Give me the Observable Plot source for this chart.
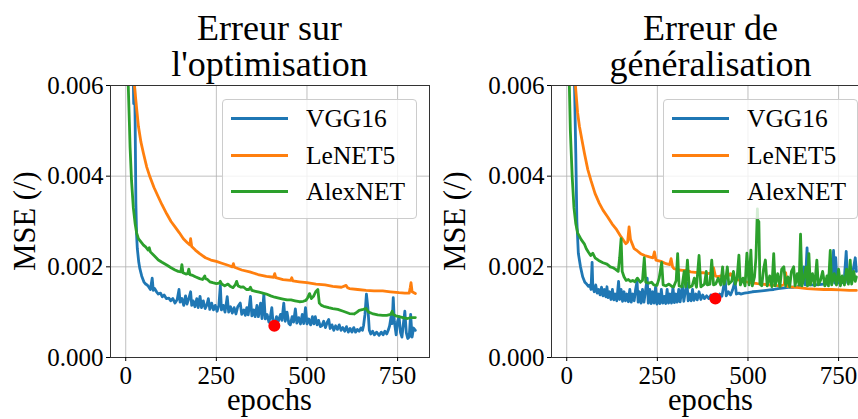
<!DOCTYPE html>
<html>
<head>
<meta charset="utf-8">
<script src="https://cdn.jsdelivr.net/npm/d3@7"></script>
<script src="https://cdn.jsdelivr.net/npm/@observablehq/plot@0.6"></script>
<style>
  html, body { margin: 0; padding: 0; background: white; overflow: hidden; }
  #root { position: relative; width: 858px; height: 419px; overflow: hidden; background: white;
          font-family: "Liberation Serif", "Times New Roman", serif; color: black; }
  #root svg, #root svg text { font-family: "Liberation Serif", "Times New Roman", serif !important; }
  #root svg { font-size: 25px !important; background: transparent !important; overflow: visible !important; max-width: none !important; }
  .abs { position: absolute; }
  .title { font-size: 36px; line-height: 36px; text-align: center; white-space: nowrap; }
  .xlabel { font-size: 30.6px; line-height: 31px; white-space: nowrap; transform: translateX(-50%); }
  .ylabel { font-size: 30.6px; line-height: 31px; white-space: nowrap; transform: translate(-50%, -50%) rotate(-90deg); }
  .legend { box-sizing: border-box; border: 1px solid #cccccc; border-radius: 4px; background: rgba(255,255,255,0.8); }
  .legend .sw { position: absolute; height: 3px; width: 57px; }
  .legend .lb { position: absolute; font-size: 25.5px; line-height: 25.5px; white-space: nowrap; }
</style>
</head>
<body>
<div id="root"></div>
<script>
// ---- Data (MSE values in units of 1e-3) ----
const epochTicks = [0, 250, 500, 750];
const mseTicks = [0, 0.002, 0.004, 0.006];
const seriesNames = ["VGG16", "LeNET5", "AlexNET"];
const seriesColors = ["#1f77b4", "#ff7f0e", "#2ca02c"];
const panelTitles = [["Erreur sur", "l'optimisation"], ["Erreur de", "généralisation"]];
const xLabel = "epochs";
const yLabel = "MSE (/)";

// best epoch markers [epoch, mse*1e3]
const bestOpt = [[410, 0.70]];
const bestGen = [[410, 1.30]];

const optVGG16 = [[0,12],[15,9],[20,6.5],[22,5.6],[24,6.3],[26,5.2],[27,4.3],[28,3.4],[30,2.7],[32,2.4],[36,2.1],[39,1.96],[44,1.8],[50,1.67],[55,1.62],[59,1.6],[64,1.55],[68,1.5],[73,1.75],[76,1.48],[80,1.52],[85,1.45],[90,1.4],[96,1.42],[101,1.34],[106,1.38],[112,1.3],[119,1.31],[124,1.25],[130,1.3],[136,1.2],[142,1.28],[147,1.5],[150,1.22],[155,1.3],[160,1.15],[165,1.36],[169,1.18],[174,1.3],[179,1.45],[182,1.15],[186,1.25],[191,1.12],[196,1.3],[200,1.1],[205,1.35],[209,1.1],[214,1.25],[219,1.08],[224,1.16],[228,1.3],[232,1.06],[237,1.2],[242,1.05],[247,1.15],[252,1.02],[257,1.15],[261,1.59],[264,1.05],[269,1.15],[274,1.0],[280,1.34],[284,1.0],[289,1.12],[294,0.98],[299,1.1],[304,0.96],[309,1.12],[316,1.2],[320,0.95],[326,1.05],[330,0.93],[334,1.1],[338,0.94],[344,1.35],[348,0.92],[353,1.05],[357,0.9],[362,1.15],[366,0.9],[372,1.2],[376,0.86],[381,1.4],[385,0.85],[390,0.95],[395,0.78],[399,0.9],[403,1.1],[406,0.8],[411,0.75],[416,0.9],[421,0.8],[427,0.95],[431,0.82],[436,1.2],[440,0.8],[445,1.0],[450,0.75],[454,0.72],[459,0.9],[463,0.78],[468,1.07],[472,0.76],[477,0.88],[482,0.74],[487,0.95],[491,0.75],[496,1.1],[500,0.74],[505,0.85],[510,0.72],[515,0.9],[519,0.74],[523,0.9],[528,0.72],[532,0.82],[537,0.68],[541,0.7],[546,0.8],[551,0.66],[556,0.78],[560,0.84],[564,0.64],[569,0.72],[574,0.6],[579,0.7],[584,0.62],[589,0.72],[594,0.6],[599,0.66],[604,0.58],[609,0.68],[614,0.56],[619,0.64],[624,0.56],[629,0.66],[634,0.56],[639,0.62],[644,0.58],[649,0.65],[653,0.6],[656,0.7],[660,0.95],[664,1.4],[668,1.1],[672,0.6],[676,0.52],[681,0.58],[686,0.5],[692,0.56],[699,0.49],[705,0.56],[710,0.5],[715,0.58],[720,0.52],[725,0.62],[728,0.7],[732,0.9],[735,0.75],[738,1.32],[741,0.8],[746,0.5],[750,0.8],[754,0.9],[758,0.55],[762,0.45],[766,0.75],[770,1.02],[774,0.55],[778,0.42],[782,0.45],[786,0.95],[790,0.45],[794,0.65],[799,0.6]];

const optLeNET5 = [[0,20],[20,8],[24,6.0],[30,5.5],[35,5.1],[42,4.75],[49,4.5],[58,4.2],[67,3.98],[78,3.75],[90,3.54],[100,3.37],[113,3.17],[125,3.0],[136,2.88],[148,2.75],[159,2.62],[170,2.53],[177,2.48],[179,2.62],[182,2.45],[192,2.37],[204,2.29],[220,2.2],[235,2.15],[250,2.12],[265,2.08],[280,2.04],[294,2.0],[297,2.07],[300,1.99],[320,1.93],[342,1.89],[365,1.83],[388,1.79],[408,1.77],[411,1.85],[414,1.76],[434,1.72],[455,1.7],[458,1.76],[461,1.69],[479,1.67],[500,1.65],[525,1.62],[550,1.6],[571,1.57],[595,1.55],[608,1.59],[612,1.54],[617,1.52],[640,1.5],[663,1.48],[685,1.47],[709,1.47],[730,1.45],[754,1.43],[770,1.42],[782,1.42],[785,1.55],[787,1.65],[790,1.45],[799,1.41]];

const optAlexNET = [[0,9],[5,7],[7,6.0],[10,5.2],[12,4.64],[16,3.9],[21,3.3],[26,2.95],[30,2.75],[35,2.62],[42,2.55],[49,2.48],[55,2.44],[62,2.37],[65,2.42],[68,2.33],[78,2.25],[90,2.15],[100,2.1],[113,2.04],[125,1.98],[136,1.93],[145,1.9],[152,1.89],[155,2.05],[158,1.87],[166,1.84],[171,1.85],[174,1.95],[177,1.83],[185,1.81],[192,1.78],[204,1.74],[212,1.72],[218,1.8],[220,1.74],[224,1.73],[232,1.67],[240,1.65],[250,1.63],[258,1.64],[261,1.68],[265,1.62],[273,1.58],[282,1.62],[288,1.57],[296,1.54],[302,1.6],[306,1.68],[310,1.58],[318,1.55],[324,1.56],[333,1.5],[340,1.5],[344,1.55],[348,1.48],[358,1.46],[368,1.44],[378,1.42],[388,1.4],[400,1.36],[411,1.33],[422,1.31],[434,1.29],[445,1.27],[456,1.27],[467,1.25],[479,1.23],[490,1.24],[497,1.26],[502,1.32],[507,1.41],[512,1.3],[518,1.35],[524,1.45],[530,1.5],[534,1.2],[540,1.15],[546,1.13],[560,1.1],[571,1.08],[585,1.06],[600,1.02],[617,0.97],[630,0.96],[638,1.0],[644,1.04],[655,1.06],[663,1.08],[670,1.0],[680,0.97],[695,0.94],[709,0.93],[720,0.93],[731,0.95],[735,1.02],[738,0.95],[745,0.92],[754,0.9],[765,0.88],[777,0.86],[787,0.88],[799,0.88]];

const genVGG16 = [[0,12],[15,8.5],[20,6.5],[22,5.8],[25,4.5],[28,3.0],[32,2.3],[38,2.0],[44,1.78],[50,1.66],[55,1.62],[60,1.57],[64,1.6],[67,1.5],[70,2.1],[72,1.55],[76,1.45],[80,1.6],[84,1.42],[88,1.5],[92,1.38],[96,1.55],[100,1.36],[104,1.5],[108,1.34],[111,1.56],[114,1.32],[118,1.45],[122,1.28],[126,1.5],[130,1.27],[134,1.4],[138,1.25],[143,1.68],[146,1.28],[150,1.5],[154,1.24],[158,1.45],[162,1.25],[166,1.4],[170,1.23],[174,1.5],[178,1.22],[182,1.4],[186,1.25],[190,1.5],[194,1.68],[197,1.22],[201,1.45],[205,1.2],[209,1.5],[213,1.22],[217,1.45],[222,1.75],[225,1.2],[229,1.5],[233,1.19],[237,1.45],[241,1.2],[245,1.55],[249,1.18],[253,1.4],[257,1.19],[261,1.5],[265,1.2],[269,1.35],[273,1.19],[277,1.5],[281,1.2],[285,1.4],[289,1.2],[293,1.55],[297,1.21],[301,1.4],[305,1.22],[309,1.5],[313,1.23],[319,1.6],[323,1.24],[327,1.45],[332,1.64],[335,1.25],[339,1.4],[343,1.25],[347,1.5],[351,1.26],[356,1.4],[360,1.27],[365,1.45],[370,1.28],[375,1.38],[380,1.3],[386,1.36],[392,1.3],[398,1.38],[404,1.32],[410,1.34],[416,1.33],[422,1.4],[428,1.35],[437,1.75],[440,1.36],[446,1.45],[452,1.38],[458,1.5],[464,1.68],[468,1.4],[475,1.42],[480,1.4],[490,1.42],[500,1.43],[512,1.45],[525,1.46],[538,1.47],[550,1.48],[560,1.49],[571,1.5],[583,1.52],[595,1.53],[606,1.54],[617,1.55],[626,1.55],[635,1.56],[645,1.58],[650,1.7],[654,2.0],[658,1.6],[663,2.42],[667,1.6],[675,1.6],[685,1.6],[697,1.61],[709,1.62],[720,1.62],[727,2.0],[731,1.63],[736,2.36],[740,1.64],[742,2.2],[746,1.64],[755,1.65],[765,1.65],[771,2.34],[775,1.65],[785,1.7],[796,2.2],[799,1.9]];

const genLeNET5 = [[0,20],[20,8],[24,6.0],[30,5.4],[35,5.1],[42,4.8],[49,4.5],[58,4.15],[67,3.9],[78,3.62],[90,3.4],[100,3.25],[113,3.1],[125,2.95],[136,2.84],[150,2.66],[163,2.51],[168,2.55],[172,2.88],[176,2.6],[186,2.4],[195,2.35],[204,2.29],[215,2.25],[228,2.22],[238,2.2],[242,2.33],[246,2.15],[260,2.12],[274,2.07],[284,2.05],[288,2.18],[292,2.0],[296,1.96],[310,1.93],[320,1.92],[330,1.92],[342,1.89],[354,1.88],[365,1.87],[376,1.87],[388,1.85],[398,1.86],[405,1.98],[410,1.8],[416,1.78],[425,1.8],[434,1.78],[445,1.8],[452,1.85],[458,1.75],[470,1.72],[480,1.7],[500,1.66],[526,1.63],[550,1.61],[571,1.59],[590,1.58],[600,1.62],[604,1.87],[608,1.57],[617,1.56],[640,1.54],[663,1.52],[685,1.51],[709,1.5],[730,1.5],[755,1.49],[780,1.48],[799,1.48]];

const genAlexNET = [[0,9],[5,6.8],[10,5.0],[15,4.0],[20,3.3],[25,2.95],[30,2.75],[40,2.6],[49,2.5],[54,2.4],[60,2.32],[66,2.25],[72,2.3],[78,2.2],[88,2.14],[100,2.09],[111,2.06],[120,2.0],[128,1.98],[134,1.95],[142,1.9],[146,2.2],[150,2.62],[153,1.9],[158,1.78],[164,1.7],[170,1.72],[176,1.68],[182,1.7],[188,1.67],[195,1.75],[203,1.66],[209,1.7],[214,2.2],[218,1.66],[226,1.64],[234,1.66],[240,1.6],[249,1.59],[255,1.75],[262,2.1],[266,1.6],[274,1.58],[282,1.62],[290,1.57],[295,1.56],[302,1.7],[306,2.29],[310,1.58],[318,1.56],[324,1.9],[328,1.56],[333,2.15],[338,1.55],[346,1.58],[352,1.75],[358,1.55],[365,2.25],[370,1.56],[380,1.62],[385,1.9],[388,1.6],[395,1.62],[400,2.15],[405,1.6],[411,1.62],[418,1.75],[425,1.6],[430,2.0],[434,1.62],[440,1.8],[443,2.0],[447,1.62],[455,1.68],[460,1.9],[465,1.62],[470,1.75],[475,2.26],[479,1.6],[486,1.75],[492,1.58],[497,2.3],[503,1.6],[508,2.37],[512,1.58],[518,1.78],[522,2.2],[526,3.28],[528,2.8],[530,3.0],[533,1.62],[538,1.58],[543,1.95],[548,2.15],[553,1.58],[560,1.8],[566,1.56],[571,2.29],[575,1.58],[582,1.85],[588,1.56],[593,1.95],[599,2.0],[604,1.58],[610,1.78],[615,1.56],[620,1.9],[626,2.0],[630,1.58],[636,1.85],[641,1.6],[645,2.72],[649,1.58],[655,1.78],[660,2.0],[664,1.58],[668,2.29],[672,1.6],[678,1.85],[684,1.58],[690,2.15],[694,1.6],[700,1.7],[706,1.9],[712,1.58],[718,1.8],[722,1.58],[727,2.36],[731,1.6],[738,1.85],[744,1.6],[750,1.95],[755,1.58],[760,1.8],[766,1.6],[772,1.95],[777,1.62],[782,2.15],[786,1.62],[792,1.9],[796,1.68],[799,1.78]];

// ---- Drawing ----
const root = document.getElementById("root");
const FONT = "'Liberation Serif', 'Times New Roman', serif";
const X_DOMAIN = [-42, 838];

function makePanel(seriesList, best, titleLines, offsetX, width, marginLeft) {
  const marks = [
    Plot.gridX(epochTicks, {stroke: "#b0b0b0", strokeOpacity: 0.8, strokeWidth: 1}),
    Plot.gridY(mseTicks, {stroke: "#b0b0b0", strokeOpacity: 0.8, strokeWidth: 1}),
  ];
  seriesList.forEach((s, i) => {
    marks.push(Plot.line(s, {
      x: d => d[0], y: d => d[1] / 1000,
      stroke: seriesColors[i], strokeWidth: 2.8, strokeLinejoin: "round", clip: true
    }));
  });
  marks.push(Plot.dot(best, {x: d => d[0], y: d => d[1] / 1000, r: 6, fill: "#ff0000", stroke: "none"}));
  marks.push(Plot.frame({stroke: "#333", strokeWidth: 1}));
  marks.push(Plot.axisX(epochTicks, {tickSize: 4, tickPadding: 5, label: null, fontSize: 25}));
  marks.push(Plot.axisY(mseTicks, {tickSize: 4, tickPadding: 3, tickFormat: d3.format(".3f"), label: null, fontSize: 25}));

  const svg = Plot.plot({
    width, height: 419,
    marginLeft, marginRight: 1, marginTop: 85, marginBottom: 62,
    x: {domain: X_DOMAIN},
    y: {domain: [0, 0.006]},
    style: {fontFamily: FONT, fontSize: "25px", color: "black", background: "transparent", overflow: "visible", maxWidth: "none"},
    marks
  });
  const wrap = document.createElement("div");
  wrap.className = "abs";
  wrap.style.left = offsetX + "px";
  wrap.style.top = "0px";
  wrap.style.width = width + "px";
  wrap.appendChild(svg);
  root.appendChild(wrap);

  const axLeft = offsetX + marginLeft;
  const axRight = offsetX + width - 1;
  const cx = (axLeft + axRight) / 2;

  // title
  const t = document.createElement("div");
  t.className = "abs title";
  t.style.left = (cx - 150) + "px";
  t.style.width = "300px";
  t.style.top = "10px";
  t.innerHTML = titleLines.map(l => l.replace(/&/g, "&amp;")).join("<br>");
  root.appendChild(t);

  // x label
  const xl = document.createElement("div");
  xl.className = "abs xlabel";
  xl.style.left = cx + "px";
  xl.style.top = "385px";
  xl.textContent = xLabel;
  root.appendChild(xl);

  // y label
  const yl = document.createElement("div");
  yl.className = "abs ylabel";
  yl.style.left = (offsetX + 24.5) + "px";
  yl.style.top = "221px";
  yl.textContent = yLabel;
  root.appendChild(yl);

  // legend
  const lg = document.createElement("div");
  lg.className = "abs legend";
  lg.style.left = (axLeft + 111.5) + "px";
  lg.style.top = "98.5px";
  lg.style.width = "195px";
  lg.style.height = "120px";
  seriesNames.forEach((name, i) => {
    const sw = document.createElement("div");
    sw.className = "sw";
    sw.style.left = "8px";
    sw.style.top = (17.3 + i * 36.7) + "px";
    sw.style.background = seriesColors[i];
    lg.appendChild(sw);
    const lb = document.createElement("div");
    lb.className = "lb";
    lb.style.left = "83.5px";
    lb.style.top = (6.4 + i * 36.7) + "px";
    lb.textContent = name;
    lg.appendChild(lb);
  });
  root.appendChild(lg);
}

makePanel([optVGG16, optLeNET5, optAlexNET], bestOpt, panelTitles[0], 0, 430, 110);
makePanel([genVGG16, genLeNET5, genAlexNET], bestGen, panelTitles[1], 430, 441, 121);
</script>
</body>
</html>
